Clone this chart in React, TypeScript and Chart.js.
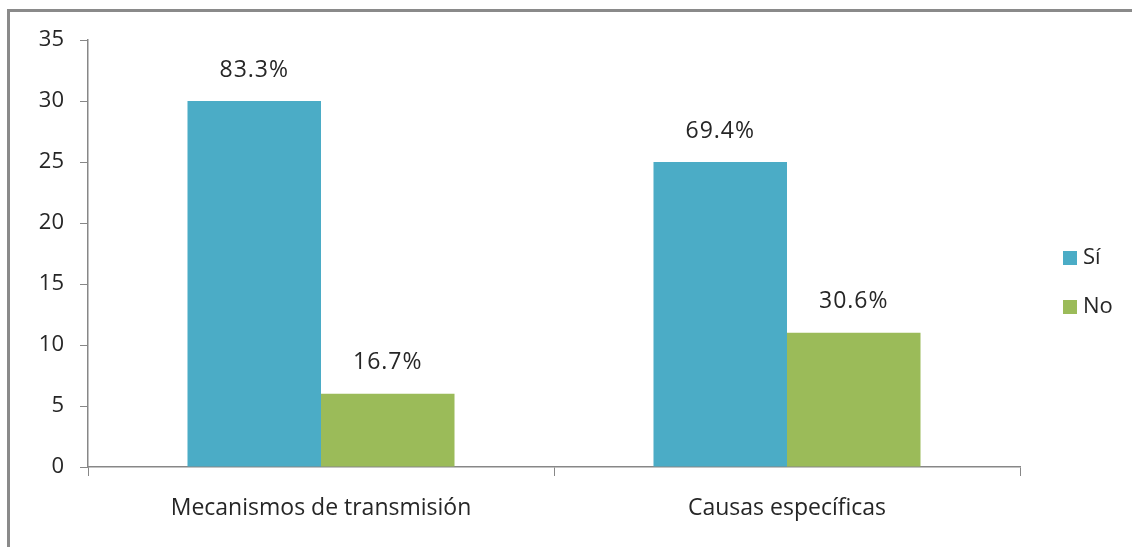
import React, { useEffect, useRef } from "react";
import { Chart, registerables } from "chart.js";

Chart.register(...registerables);

const categories = ["Mecanismos de transmisión", "Causas específicas"];
const seriesNames = ["Sí", "No"];
const siValues = [30, 25];
const noValues = [6, 11];
const siLabels = ["83.3%", "69.4%"];
const noLabels = ["16.7%", "30.6%"];
const yTicks = [0, 5, 10, 15, 20, 25, 30, 35];

const BLUE = "#4BACC6";
const GREEN = "#9BBB59";
const AXIS = "#878787";
const TEXT = "#262626";
const FONT = "'Open Sans', sans-serif";

const W = 1132;
const H = 547;

const labelPlugin = {
  id: "barLabels",
  afterDatasetsDraw(chart: any) {
    const ctx = chart.ctx;
    const all = [siLabels, noLabels];
    ctx.save();
    ctx.font = `23px ${FONT}`;
    (ctx as any).letterSpacing = "1px";
    ctx.fillStyle = TEXT;
    ctx.textAlign = "center";
    ctx.textBaseline = "middle";
    chart.data.datasets.forEach((_: any, di: number) => {
      const meta = chart.getDatasetMeta(di);
      meta.data.forEach((bar: any, i: number) => {
        ctx.fillText(all[di][i], bar.x, bar.y - 31);
      });
    });
    ctx.restore();
  },
};

const legendPlugin = {
  id: "customLegend",
  afterDraw(chart: any) {
    const ctx = chart.ctx;
    const colors = [BLUE, GREEN];
    const ys = [258, 307];
    const x = chart.chartArea.right + 43;
    ctx.save();
    ctx.font = `22px ${FONT}`;
    ctx.textBaseline = "middle";
    ctx.textAlign = "left";
    seriesNames.forEach((name, i) => {
      ctx.fillStyle = colors[i];
      ctx.fillRect(x, ys[i] - 7, 14, 14);
      ctx.fillStyle = TEXT;
      ctx.fillText(name, x + 20, ys[i]);
    });
    ctx.restore();
  },
};

export default function App() {
  const ref = useRef<HTMLCanvasElement>(null);
  useEffect(() => {
    if (!ref.current) return;
    const chart = new Chart(ref.current, {
      type: "bar",
      data: {
        labels: categories,
        datasets: [
          {
            label: seriesNames[0],
            data: siValues,
            backgroundColor: BLUE,
            categoryPercentage: 0.573,
            barPercentage: 1,
          },
          {
            label: seriesNames[1],
            data: noValues,
            backgroundColor: GREEN,
            categoryPercentage: 0.573,
            barPercentage: 1,
          },
        ],
      },
      options: {
        animation: false,
        responsive: false,
        maintainAspectRatio: false,
        layout: { padding: { left: 0, right: W - 1020, top: 40, bottom: 0 } },
        plugins: {
          legend: { display: false },
          tooltip: { enabled: false },
        },
        scales: {
          x: {
            offset: true,
            grid: {
              offset: true,
              drawOnChartArea: false,
              drawTicks: true,
              tickLength: 9,
              color: AXIS,
            },
            border: { color: AXIS, width: 1.5 },
            ticks: {
              color: TEXT,
              font: { family: FONT, size: 23 },
              padding: 19,
            },
            afterFit(scale: any) {
              scale.height = H - 467;
            },
          },
          y: {
            min: 0,
            max: 35,
            afterBuildTicks(scale: any) {
              scale.ticks = yTicks.map((v) => ({ value: v }));
            },
            grid: {
              drawOnChartArea: false,
              drawTicks: true,
              tickLength: 8,
              color: AXIS,
            },
            border: { color: AXIS, width: 1.5 },
            ticks: {
              color: TEXT,
              font: { family: FONT, size: 22 },
              padding: 16,
            },
            afterFit(scale: any) {
              scale.width = 88;
            },
          },
        },
      },
      plugins: [labelPlugin, legendPlugin],
    });
    return () => chart.destroy();
  }, []);

  return (
    <div
      style={{
        position: "absolute",
        left: 0,
        top: 0,
        width: W,
        height: H,
        background: "#fff",
        overflow: "hidden",
      }}
    >
      <div
        style={{
          position: "absolute",
          left: 7,
          top: 9,
          width: W + 20,
          height: H + 20,
          borderTop: "3px solid #8a8a8a",
          borderLeft: "3px solid #8a8a8a",
          boxSizing: "border-box",
        }}
      />
      <canvas
        ref={ref}
        width={W}
        height={H}
        style={{ position: "absolute", left: 0, top: 0 }}
      />
    </div>
  );
}
